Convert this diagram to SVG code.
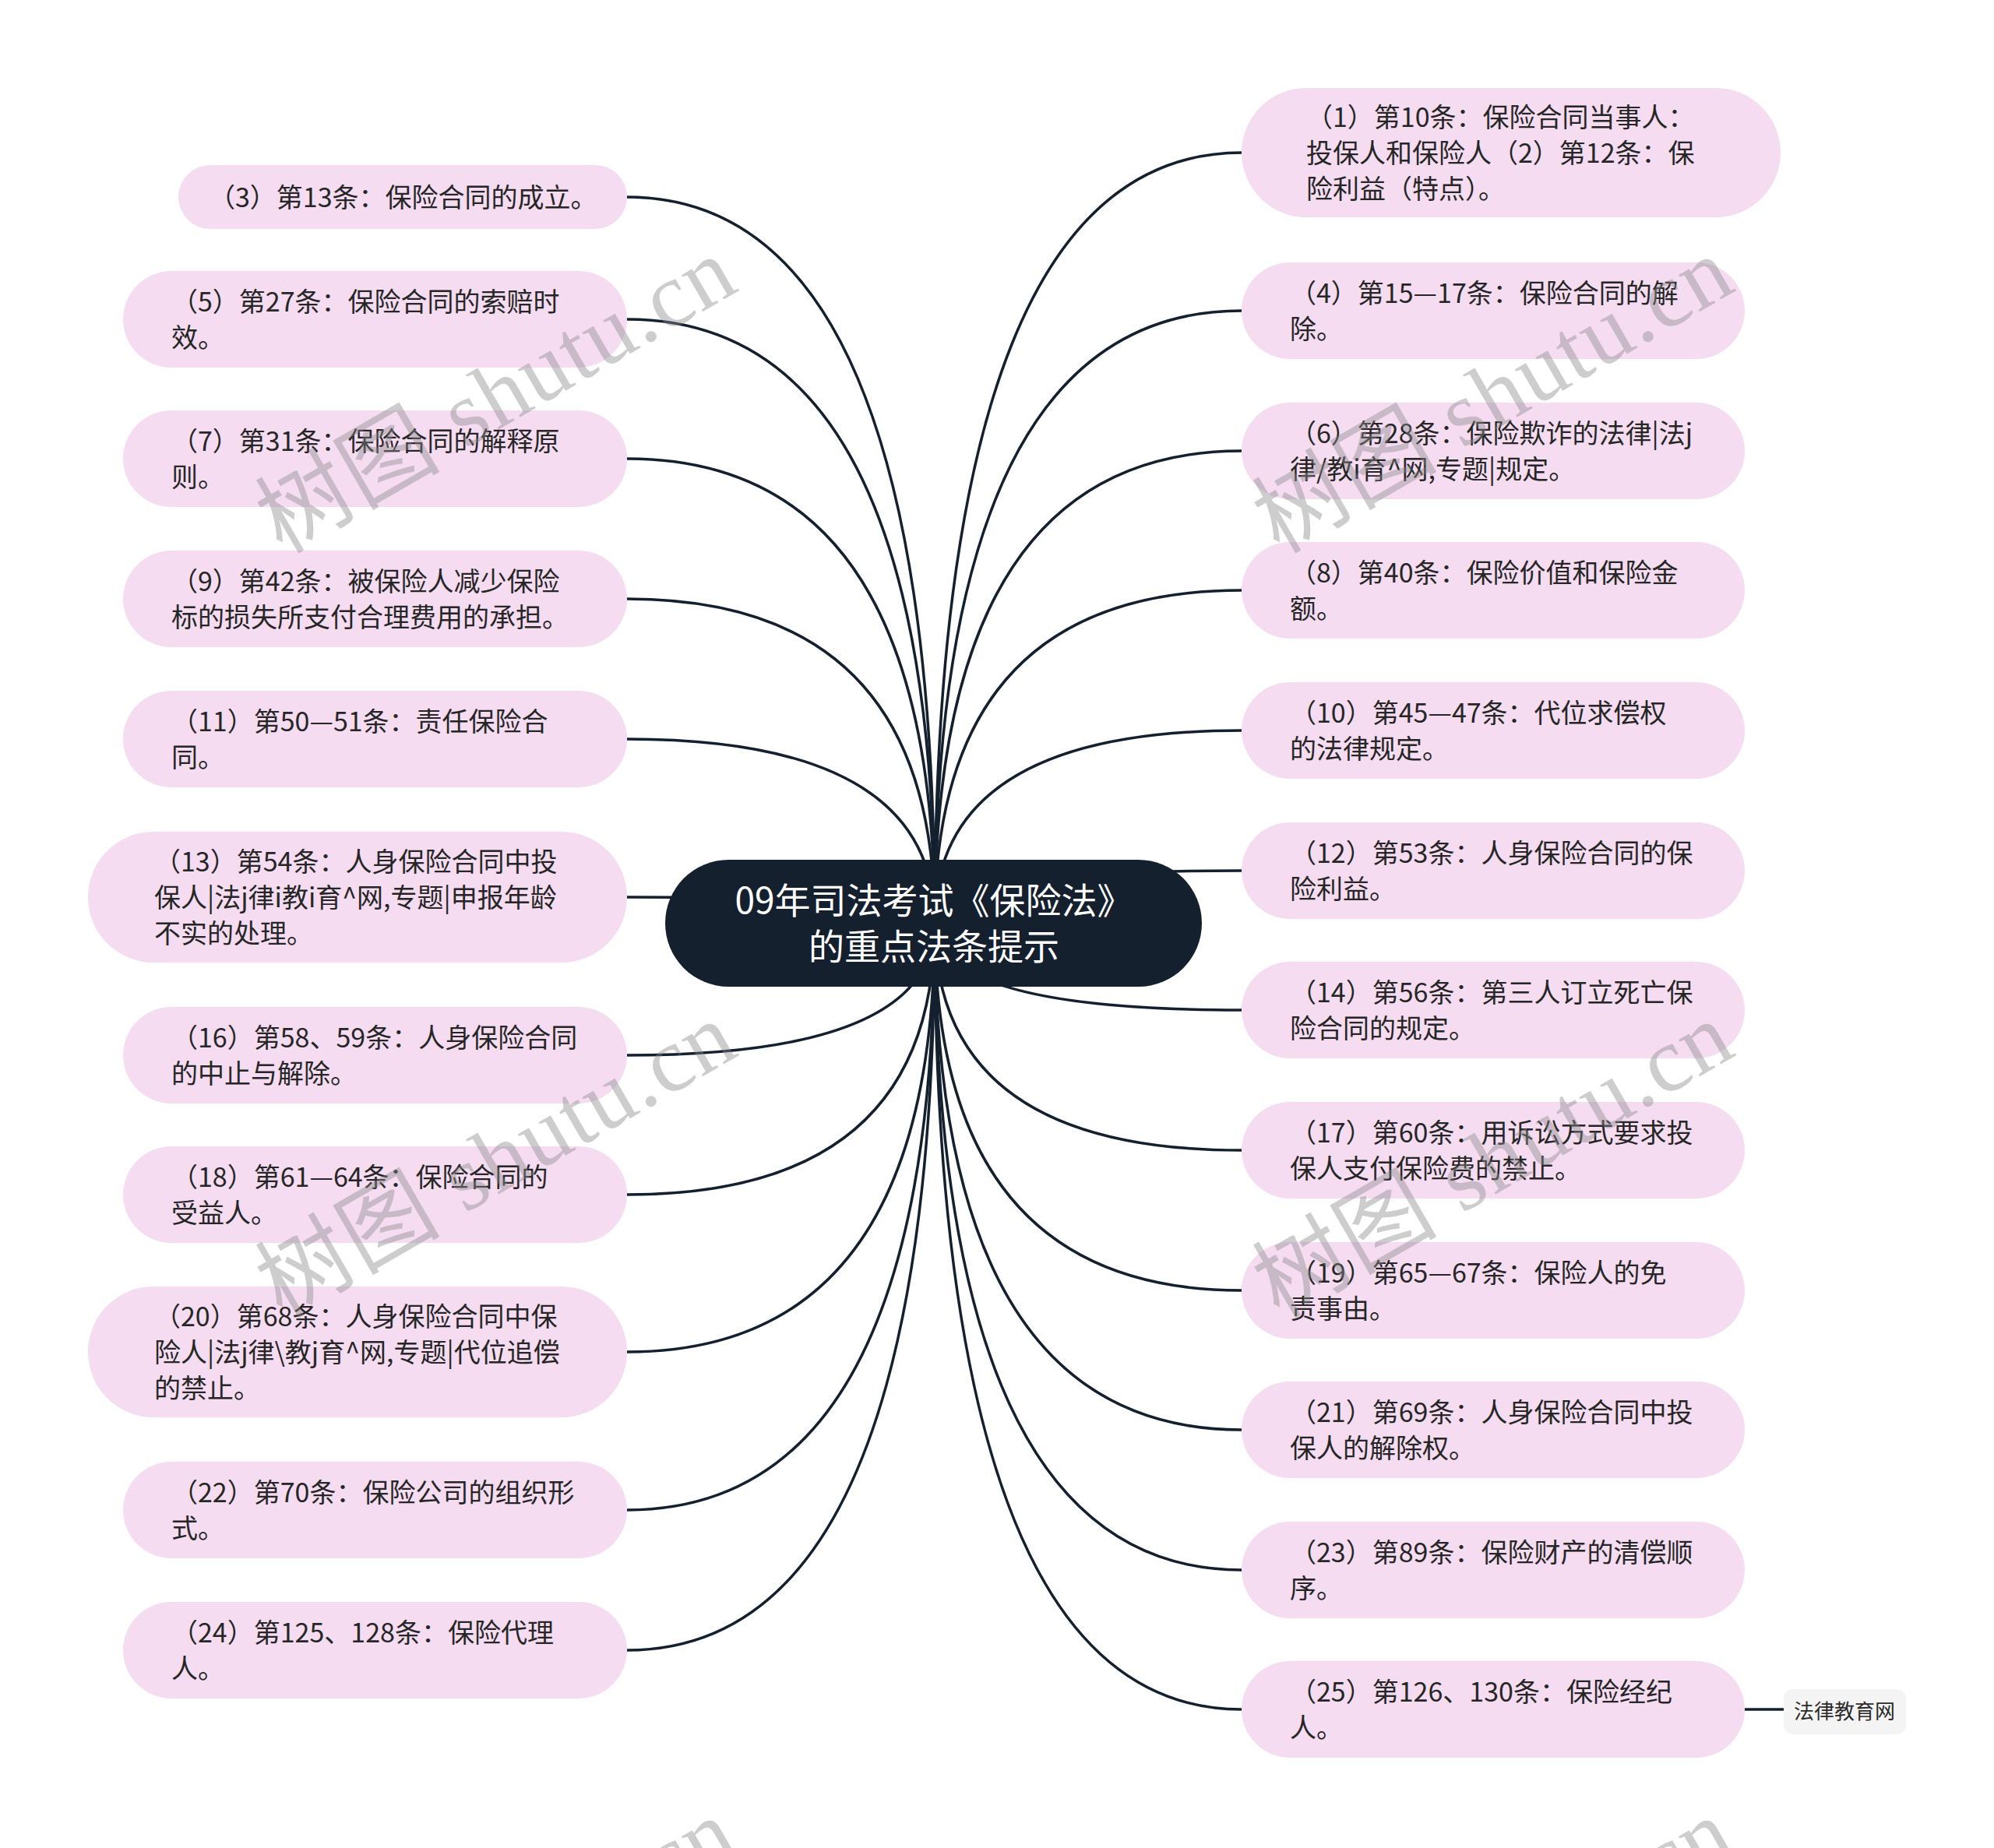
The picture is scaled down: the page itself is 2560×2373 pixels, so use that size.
<svg xmlns="http://www.w3.org/2000/svg" width="2560" height="2373" viewBox="0 0 2560 2373">
<style>
.bg{fill:#ffffff}
.n{fill:#f5dcf1}
.t{font-family:"Noto Sans CJK SC","Noto Sans",sans-serif;font-size:34px;fill:#262626}
.ct{font-family:"Noto Sans CJK SC","Noto Sans",sans-serif;font-size:46px;fill:#ffffff;text-anchor:middle}
.lt{font-family:"Noto Sans CJK SC","Noto Sans",sans-serif;font-size:26px;fill:#2b2b2b;text-anchor:middle}
.c{fill:none;stroke:#15202f;stroke-width:3.5}
.wm{font-family:"Liberation Serif","Noto Sans CJK SC",serif;font-size:118px;fill:#888888;fill-opacity:0.42}
</style>
<rect class="bg" x="0" y="0" width="2560" height="2373"/>
<g id="connectors">
<path class="c" d="M1200 1185 Q1200 253 805 253"/>
<path class="c" d="M1200 1185 Q1200 410 805 410"/>
<path class="c" d="M1200 1185 Q1200 589 805 589"/>
<path class="c" d="M1200 1185 Q1200 769 805 769"/>
<path class="c" d="M1200 1185 Q1200 949 805 949"/>
<path class="c" d="M1200 1185 Q1200 1152 805 1152"/>
<path class="c" d="M1200 1185 Q1200 1355 805 1355"/>
<path class="c" d="M1200 1185 Q1200 1534 805 1534"/>
<path class="c" d="M1200 1185 Q1200 1736 805 1736"/>
<path class="c" d="M1200 1185 Q1200 1939 805 1939"/>
<path class="c" d="M1200 1185 Q1200 2119 805 2119"/>
<path class="c" d="M1200 1185 Q1200 196 1594 196"/>
<path class="c" d="M1200 1185 Q1200 399 1594 399"/>
<path class="c" d="M1200 1185 Q1200 579 1594 579"/>
<path class="c" d="M1200 1185 Q1200 758 1594 758"/>
<path class="c" d="M1200 1185 Q1200 938 1594 938"/>
<path class="c" d="M1200 1185 Q1200 1118 1594 1118"/>
<path class="c" d="M1200 1185 Q1200 1297 1594 1297"/>
<path class="c" d="M1200 1185 Q1200 1477 1594 1477"/>
<path class="c" d="M1200 1185 Q1200 1657 1594 1657"/>
<path class="c" d="M1200 1185 Q1200 1836 1594 1836"/>
<path class="c" d="M1200 1185 Q1200 2016 1594 2016"/>
<path class="c" d="M1200 1185 Q1200 2195 1594 2195"/>
<path class="c" d="M2240 2195 L2290 2195"/>
</g>
<g id="center">
<rect x="854" y="1104" width="689" height="163" rx="81.5" fill="#15202f"/>
<text class="ct" x="1199" y="1173">09年司法考试《保险法》</text>
<text class="ct" x="1199" y="1232">的重点法条提示</text>
</g>
<g id="n3"><rect class="n" x="229" y="212" width="576" height="82" rx="41"/>
<text class="t" x="268" y="266">（3）第13条：保险合同的成立。</text></g>
<g id="n5"><rect class="n" x="158" y="348" width="647" height="124" rx="62"/>
<text class="t" x="220" y="400">（5）第27条：保险合同的索赔时</text><text class="t" x="220" y="446">效。</text></g>
<g id="n7"><rect class="n" x="158" y="527" width="647" height="124" rx="62"/>
<text class="t" x="220" y="579">（7）第31条：保险合同的解释原</text><text class="t" x="220" y="625">则。</text></g>
<g id="n9"><rect class="n" x="158" y="707" width="647" height="124" rx="62"/>
<text class="t" x="220" y="759">（9）第42条：被保险人减少保险</text><text class="t" x="220" y="805">标的损失所支付合理费用的承担。</text></g>
<g id="n11"><rect class="n" x="158" y="887" width="647" height="124" rx="62"/>
<text class="t" x="220" y="939">（11）第50—51条：责任保险合</text><text class="t" x="220" y="985">同。</text></g>
<g id="n13"><rect class="n" x="113" y="1068" width="692" height="168" rx="84"/>
<text class="t" x="198" y="1119">（13）第54条：人身保险合同中投</text><text class="t" x="198" y="1165">保人|法j律i教i育^网,专题|申报年龄</text><text class="t" x="198" y="1211">不实的处理。</text></g>
<g id="n16"><rect class="n" x="158" y="1293" width="647" height="124" rx="62"/>
<text class="t" x="220" y="1345">（16）第58、59条：人身保险合同</text><text class="t" x="220" y="1391">的中止与解除。</text></g>
<g id="n18"><rect class="n" x="158" y="1472" width="647" height="124" rx="62"/>
<text class="t" x="220" y="1524">（18）第61—64条：保险合同的</text><text class="t" x="220" y="1570">受益人。</text></g>
<g id="n20"><rect class="n" x="113" y="1652" width="692" height="168" rx="84"/>
<text class="t" x="198" y="1703">（20）第68条：人身保险合同中保</text><text class="t" x="198" y="1749">险人|法j律\教j育^网,专题|代位追偿</text><text class="t" x="198" y="1795">的禁止。</text></g>
<g id="n22"><rect class="n" x="158" y="1877" width="647" height="124" rx="62"/>
<text class="t" x="220" y="1929">（22）第70条：保险公司的组织形</text><text class="t" x="220" y="1975">式。</text></g>
<g id="n24"><rect class="n" x="158" y="2057" width="647" height="124" rx="62"/>
<text class="t" x="220" y="2109">（24）第125、128条：保险代理</text><text class="t" x="220" y="2155">人。</text></g>
<g id="n1"><rect class="n" x="1594" y="113" width="692" height="166" rx="83"/>
<text class="t" x="1677" y="163">（1）第10条：保险合同当事人：</text><text class="t" x="1677" y="209">投保人和保险人（2）第12条：保</text><text class="t" x="1677" y="255">险利益（特点）。</text></g>
<g id="n4"><rect class="n" x="1594" y="337" width="646" height="124" rx="62"/>
<text class="t" x="1656" y="389">（4）第15—17条：保险合同的解</text><text class="t" x="1656" y="435">除。</text></g>
<g id="n6"><rect class="n" x="1594" y="517" width="646" height="124" rx="62"/>
<text class="t" x="1656" y="569">（6）第28条：保险欺诈的法律|法j</text><text class="t" x="1656" y="615">律/教i育^网,专题|规定。</text></g>
<g id="n8"><rect class="n" x="1594" y="696" width="646" height="124" rx="62"/>
<text class="t" x="1656" y="748">（8）第40条：保险价值和保险金</text><text class="t" x="1656" y="794">额。</text></g>
<g id="n10"><rect class="n" x="1594" y="876" width="646" height="124" rx="62"/>
<text class="t" x="1656" y="928">（10）第45—47条：代位求偿权</text><text class="t" x="1656" y="974">的法律规定。</text></g>
<g id="n12"><rect class="n" x="1594" y="1056" width="646" height="124" rx="62"/>
<text class="t" x="1656" y="1108">（12）第53条：人身保险合同的保</text><text class="t" x="1656" y="1154">险利益。</text></g>
<g id="n14"><rect class="n" x="1594" y="1235" width="646" height="124" rx="62"/>
<text class="t" x="1656" y="1287">（14）第56条：第三人订立死亡保</text><text class="t" x="1656" y="1333">险合同的规定。</text></g>
<g id="n17"><rect class="n" x="1594" y="1415" width="646" height="124" rx="62"/>
<text class="t" x="1656" y="1467">（17）第60条：用诉讼方式要求投</text><text class="t" x="1656" y="1513">保人支付保险费的禁止。</text></g>
<g id="n19"><rect class="n" x="1594" y="1595" width="646" height="124" rx="62"/>
<text class="t" x="1656" y="1647">（19）第65—67条：保险人的免</text><text class="t" x="1656" y="1693">责事由。</text></g>
<g id="n21"><rect class="n" x="1594" y="1774" width="646" height="124" rx="62"/>
<text class="t" x="1656" y="1826">（21）第69条：人身保险合同中投</text><text class="t" x="1656" y="1872">保人的解除权。</text></g>
<g id="n23"><rect class="n" x="1594" y="1954" width="646" height="124" rx="62"/>
<text class="t" x="1656" y="2006">（23）第89条：保险财产的清偿顺</text><text class="t" x="1656" y="2052">序。</text></g>
<g id="n25"><rect class="n" x="1594" y="2133" width="646" height="124" rx="62"/>
<text class="t" x="1656" y="2185">（25）第126、130条：保险经纪</text><text class="t" x="1656" y="2231">人。</text></g>
<g id="n26"><rect x="2290" y="2169" width="157" height="58" rx="12" fill="#f4f4f4"/>
<text class="lt" x="2368" y="2207">法律教育网</text></g>
<g id="watermarks">
<text class="wm" transform="translate(362 712) rotate(-30)" textLength="680" lengthAdjust="spacing">树图 shutu.cn</text>
<text class="wm" transform="translate(1642 712) rotate(-30)" textLength="680" lengthAdjust="spacing">树图 shutu.cn</text>
<text class="wm" transform="translate(362 1694) rotate(-30)" textLength="680" lengthAdjust="spacing">树图 shutu.cn</text>
<text class="wm" transform="translate(1642 1694) rotate(-30)" textLength="680" lengthAdjust="spacing">树图 shutu.cn</text>
<text class="wm" transform="translate(362 2717) rotate(-30)" textLength="680" lengthAdjust="spacing">树图 shutu.cn</text>
<text class="wm" transform="translate(1642 2717) rotate(-30)" textLength="680" lengthAdjust="spacing">树图 shutu.cn</text>
</g>
</svg>
